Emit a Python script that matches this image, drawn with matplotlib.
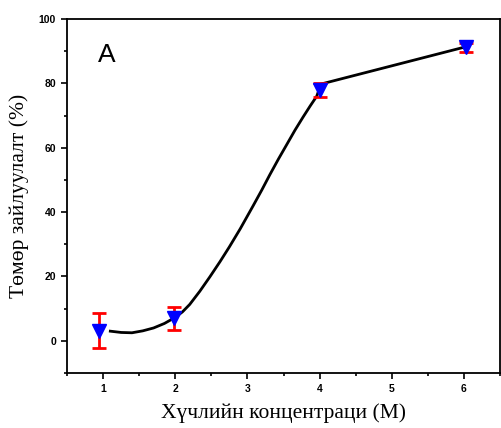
import matplotlib
matplotlib.use("Agg")
import matplotlib.pyplot as plt
from matplotlib.ticker import MultipleLocator

# measured points
conc = [0.95, 1.98, 4.0, 6.03]
removal = [3.2, 7.0, 78.0, 91.2]
err = [5.3, 3.6, 2.2, 1.3]

# fitted curve
curve_x = [1.10, 1.25, 1.40, 1.55, 1.70, 1.85, 2.00, 2.10, 2.20, 2.34, 2.48, 2.62,
           2.75, 2.90, 3.08, 3.20, 3.31, 3.43, 3.54, 3.66, 3.77, 3.87, 3.96, 4.02,
           6.03]
curve_y = [3.0, 2.6, 2.5, 3.1, 4.0, 5.4, 7.3, 9.0, 11.3, 15.4, 19.9, 24.6,
           29.2, 34.8, 42.0, 46.9, 51.6, 56.5, 60.8, 65.5, 69.5, 73.0, 76.0, 79.8,
           91.4]

fig = plt.figure(figsize=(5.02, 4.28), dpi=100)
ax = fig.add_axes([0.1335, 0.1285, 0.8625, 0.827])

ax.plot(curve_x, curve_y, color="black", lw=2, zorder=2)
ax.errorbar(conc, removal, yerr=err, fmt="none", ecolor="red", elinewidth=2,
            capsize=5, capthick=2, zorder=3)
ax.plot(conc, removal, "v", color="blue", markersize=10, zorder=4)

ax.set_xlim(0.5, 6.5)
ax.set_ylim(-10, 100)
ax.xaxis.set_major_locator(MultipleLocator(1))
ax.xaxis.set_minor_locator(MultipleLocator(0.5))
ax.yaxis.set_major_locator(MultipleLocator(20))
ax.yaxis.set_minor_locator(MultipleLocator(10))
ax.tick_params(which="both", direction="out", width=1.2)
ax.tick_params(which="major", length=4.5)
ax.tick_params(which="minor", length=2.5)
for lab in ax.get_xticklabels() + ax.get_yticklabels():
    lab.set_fontfamily("Liberation Sans")
    lab.set_fontweight("bold")
    lab.set_fontsize(7.5)
for s in ax.spines.values():
    s.set_linewidth(1.3)

ax.set_xlabel("Хүчлийн концентраци (M)", fontfamily="Liberation Serif", fontsize=15.5)
ax.set_ylabel("Төмөр зайлуулалт (%)", fontfamily="Liberation Serif", fontsize=15.5)
ax.xaxis.set_label_coords(0.5, -0.085)
ax.yaxis.set_label_coords(-0.088, 0.5)

ax.text(0.072, 0.879, "A", transform=ax.transAxes, fontfamily="Liberation Sans",
        fontsize=19, va="baseline")

fig.savefig("out.png", dpi=100)
